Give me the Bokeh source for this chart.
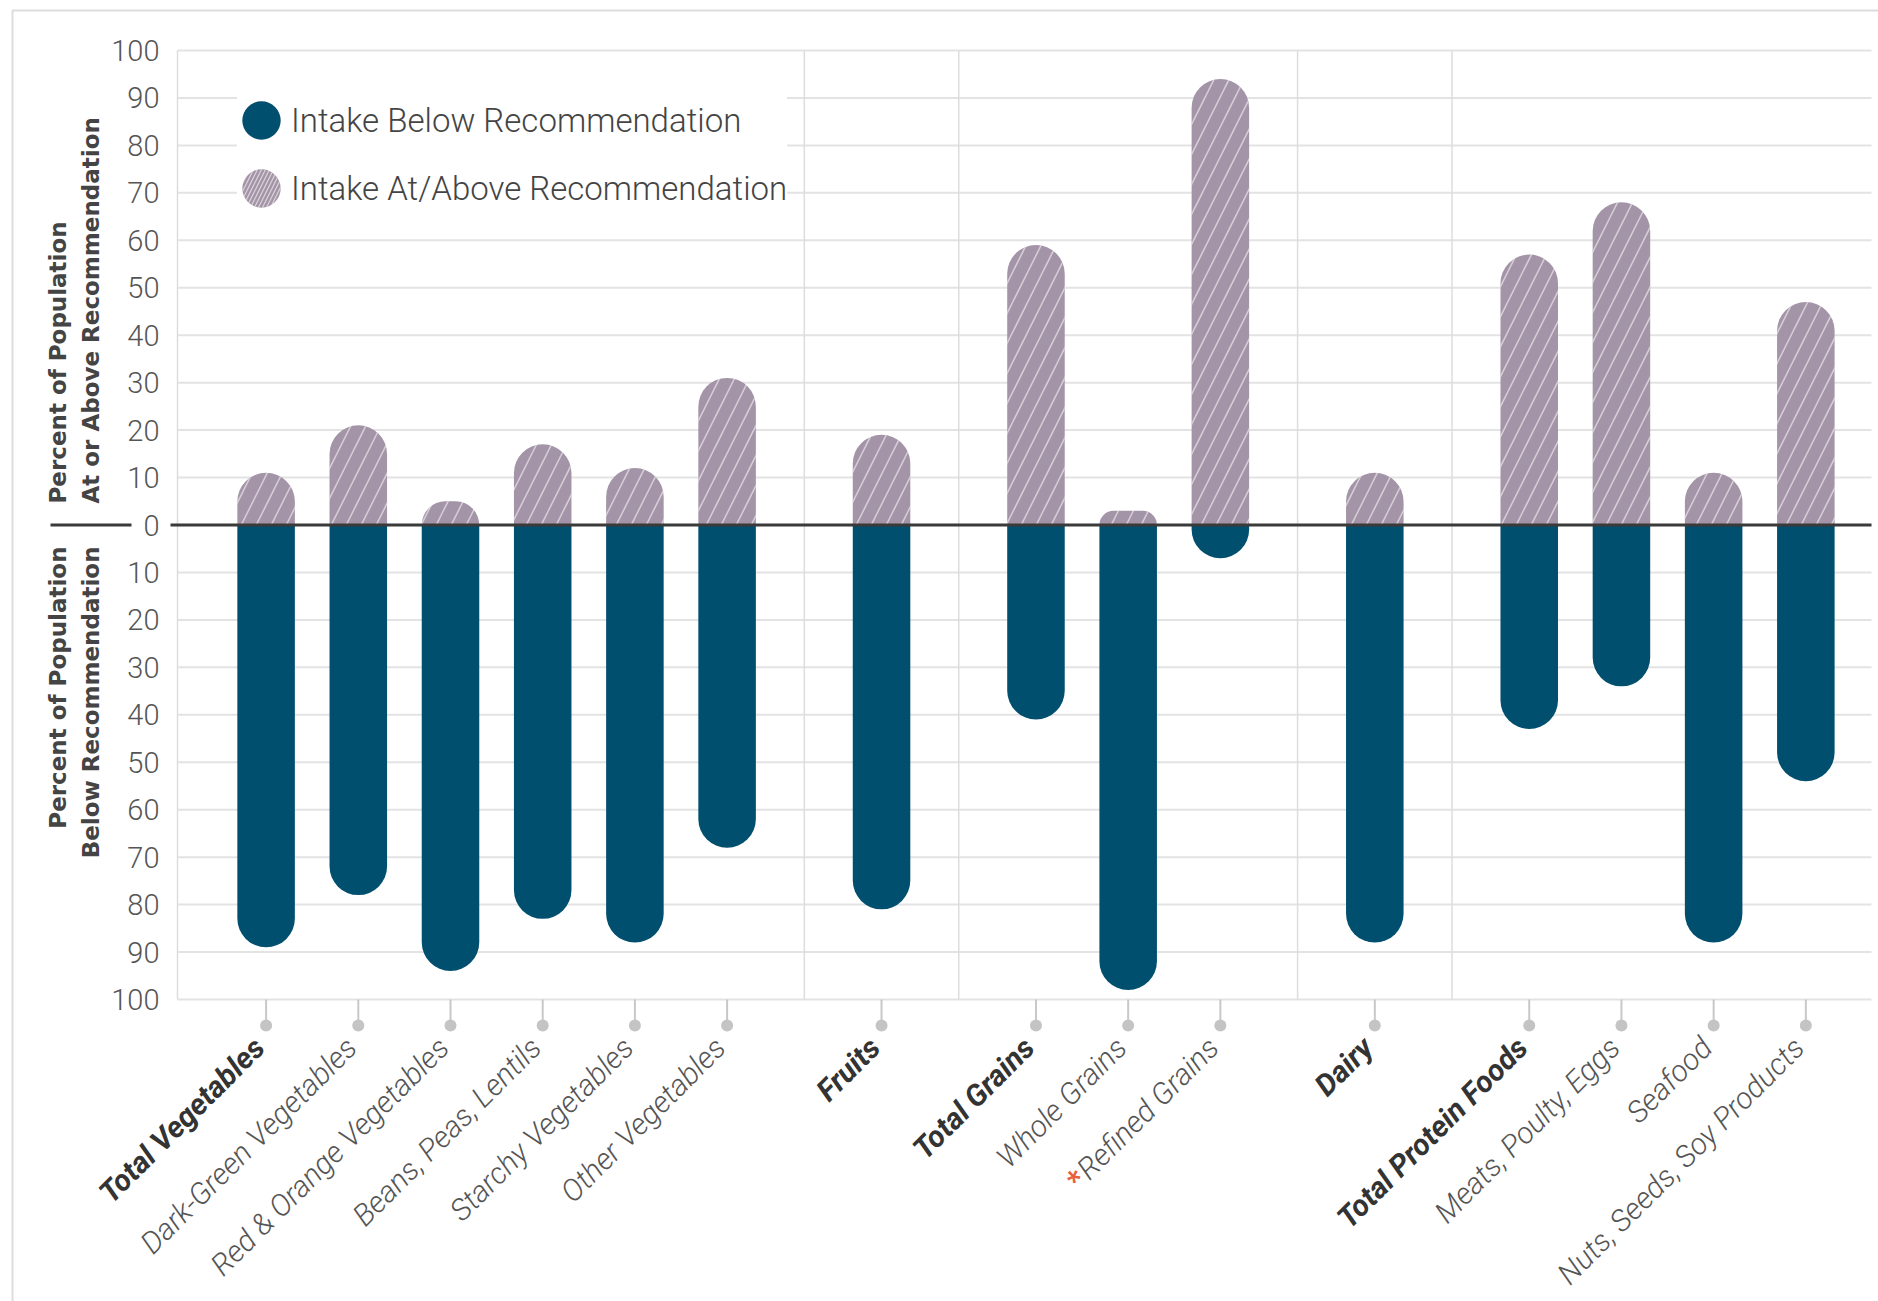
import math
import numpy as np
from bokeh.plotting import figure
from bokeh.models import (ColumnDataSource, FixedTicker, Label, BoxAnnotation,
                          Legend, LegendItem, Range1d)
from bokeh.core.properties import value
from bokeh.embed import file_html
from bokeh.resources import INLINE

# ---------------- data ----------------
categories = ["Total Vegetables", "Dark-Green Vegetables", "Red & Orange Vegetables",
              "Beans, Peas, Lentils", "Starchy Vegetables", "Other Vegetables",
              "Fruits",
              "Total Grains", "Whole Grains", "Refined Grains",
              "Dairy",
              "Total Protein Foods", "Meats, Poulty, Eggs", "Seafood",
              "Nuts, Seeds, Soy Products"]
category_group = [0, 0, 0, 0, 0, 0, 1, 2, 2, 2, 3, 4, 4, 4, 4]
is_total = [True, False, False, False, False, False, True, True, False, False,
            True, True, False, False, False]
flagged = ["Refined Grains"]
at_or_above = [11, 21, 5, 17, 12, 31, 19, 59, 3, 94, 11, 57, 68, 11, 47]
below_rec = [89, 78, 94, 83, 88, 68, 81, 41, 98, 7, 88, 43, 34, 88, 54]
y_ticks = list(range(-100, 101, 10))
y_tick_labels = {t: str(abs(t)) for t in y_ticks}
series_labels = ["Intake Below Recommendation", "Intake At/Above Recommendation"]
y_titles_upper = ["Percent of Population", "At or Above Recommendation"]
y_titles_lower = ["Percent of Population", "Below Recommendation"]

# ---------------- style / layout ----------------
W, H = 1878, 1301
PLOT_LEFT, PLOT_RIGHT = 177, 1871          # canvas px of the gridded area
PX_PER_Y = 4.745
PX_PER_X = 92.2
FIRST_BAR_PX = 265.6
GROUP_GAP = 0.675
BAR_W = 0.624
RADIUS = 29
TEAL = "#004f6e"
PURPLE = "#a494a7"
GRID = "#e3e3e3"

x_pos = [i + GROUP_GAP * g for i, g in enumerate(category_group)]
x_start = x_pos[0] - FIRST_BAR_PX / PX_PER_X
x_end = x_start + W / PX_PER_X
y_end = 100 + 50 / PX_PER_Y
y_start = y_end - H / PX_PER_Y


def x_at(px):
    return x_start + px / PX_PER_X


def y_at(py):
    return y_end - py / PX_PER_Y


p = figure(width=W, height=H, output_backend="svg", toolbar_location=None,
           x_range=Range1d(x_start, x_end), y_range=Range1d(y_start, y_end),
           x_axis_type=None, min_border=0,
           background_fill_color="white", border_fill_color="white",
           outline_line_color=None)

# y axis (drawn inside the frame at the left edge of the gridded area)
yax = p.yaxis[0]
yax.fixed_location = x_at(PLOT_LEFT)
yax.ticker = FixedTicker(ticks=y_ticks)
yax.major_label_overrides = y_tick_labels
yax.axis_line_color = None
yax.major_tick_line_color = None
yax.minor_tick_line_color = None
yax.major_tick_out = 0
yax.major_tick_in = 0
yax.major_label_standoff = 18
yax.major_label_text_font = "Roboto Light"
yax.major_label_text_font_size = "29px"
yax.major_label_text_color = "#555555"
p.ygrid.visible = False

gx0, gx1 = x_at(PLOT_LEFT), x_at(PLOT_RIGHT)
# horizontal grid lines
p.segment(x0=[gx0] * len(y_ticks), y0=y_ticks, x1=[gx1] * len(y_ticks), y1=y_ticks,
          line_color=GRID, line_width=2)

# vertical separators between groups + left edge
sep_x = [gx0]
for i in range(len(x_pos) - 1):
    if category_group[i] != category_group[i + 1]:
        sep_x.append((x_pos[i] + x_pos[i + 1]) / 2)
p.segment(x0=sep_x, y0=[-100] * len(sep_x), x1=sep_x, y1=[100] * len(sep_x),
          line_color="#dddddd", line_width=1.5)

src = ColumnDataSource(dict(
    x=x_pos,
    above=at_or_above,
    below=[-v for v in below_rec],
    name=categories,
))

p.vbar(x="x", top="above", bottom=0, width=BAR_W, source=src,
       fill_color=PURPLE, line_color=None,
       hatch_pattern="/", hatch_color="white", hatch_alpha=0.55,
       hatch_weight=1.5, hatch_scale=30,
       border_radius=(RADIUS, RADIUS, 0, 0))
p.vbar(x="x", top=0, bottom="below", width=BAR_W, source=src,
       fill_color=TEAL, line_color=None,
       border_radius=(0, 0, RADIUS, RADIUS))

# zero line and the short rule between the two axis titles
p.segment(x0=[x_at(170), x_at(50)], y0=[0, 0], x1=[gx1, x_at(131)], y1=[0, 0],
          line_color="#3a3a3a", line_width=3)

# tick marks with dots
n = len(x_pos)
p.segment(x0=x_pos, y0=[-100] * n, x1=x_pos, y1=[y_at(1020)] * n,
          line_color="#c8c8c8", line_width=2)
p.scatter(x=x_pos, y=[y_at(1025)] * n, size=12, fill_color="#c4c4c4", line_color=None)

# category labels
LABEL_Y = y_at(1042)
LABEL_DX = -7
ang = math.pi / 4
tot_idx = [i for i in range(n) if is_total[i]]
sub_idx = [i for i in range(n) if not is_total[i]]
p.text(x=[x_pos[i] for i in tot_idx], y=[LABEL_Y] * len(tot_idx),
       text=[categories[i] for i in tot_idx], angle=ang, x_offset=LABEL_DX,
       text_align="right", text_baseline="middle",
       text_font=value("Roboto"), text_font_style="bold italic",
       text_font_size="30px", text_color="#333333")
p.text(x=[x_pos[i] for i in sub_idx], y=[LABEL_Y] * len(sub_idx),
       text=[categories[i] for i in sub_idx], angle=ang, x_offset=LABEL_DX,
       text_align="right", text_baseline="middle",
       text_font=value("Roboto Light"), text_font_style="italic",
       text_font_size="30px", text_color="#555555")
# red asterisk in front of flagged categories
STAR_W = 187
fl_idx = [categories.index(c) for c in flagged]
p.text(x=[x_pos[i] for i in fl_idx], y=[LABEL_Y] * len(fl_idx), text=["*"] * len(fl_idx),
       angle=ang, x_offset=LABEL_DX - STAR_W * math.cos(ang), y_offset=STAR_W * math.sin(ang),
       text_align="right", text_baseline="middle",
       text_font=value("Roboto"), text_font_style="bold",
       text_font_size="30px", text_color="#e8603c")

# legend (circle glyphs)
r1 = p.ellipse(x=[np.nan], y=[np.nan], width=38, height=38,
               width_units="screen", height_units="screen",
               fill_color=TEAL, line_color=None)
r2 = p.ellipse(x=[np.nan], y=[np.nan], width=38, height=38,
               width_units="screen", height_units="screen",
               fill_color=PURPLE, line_color=None,
               hatch_pattern="/", hatch_color="white", hatch_alpha=0.6,
               hatch_weight=1.2, hatch_scale=8)
legend = Legend(items=[LegendItem(label=series_labels[0], renderers=[r1]),
                       LegendItem(label=series_labels[1], renderers=[r2])],
                location=(237, 1089), glyph_width=48, glyph_height=48,
                spacing=20, padding=14, label_standoff=6,
                label_text_font="Roboto Light", label_text_font_size="33px",
                label_text_color="#444444",
                background_fill_color="white", background_fill_alpha=1.0,
                border_line_color=None)
p.add_layout(legend)

# y-axis titles
for txt, xx in zip(y_titles_upper, [57, 90]):
    p.add_layout(Label(x=xx, y=503, x_units="canvas", y_units="canvas", text=txt,
                       angle=math.pi / 2, text_align="left", text_baseline="middle",
                       text_font="DejaVu Sans", text_font_style="bold",
                       text_font_size="23px", text_color="#444444"))
for txt, xx in zip(y_titles_lower, [57, 90]):
    p.add_layout(Label(x=xx, y=546, x_units="canvas", y_units="canvas", text=txt,
                       angle=math.pi / 2, text_align="right", text_baseline="middle",
                       text_font="DejaVu Sans", text_font_style="bold",
                       text_font_size="23px", text_color="#444444"))

# outer border
p.add_layout(BoxAnnotation(left=12, right=1900, top=10, bottom=1330,
                           left_units="canvas", right_units="canvas",
                           top_units="canvas", bottom_units="canvas",
                           fill_alpha=0, line_color="#8a8a8a", line_width=2))

open("out.html", "w").write(file_html(p, INLINE))
